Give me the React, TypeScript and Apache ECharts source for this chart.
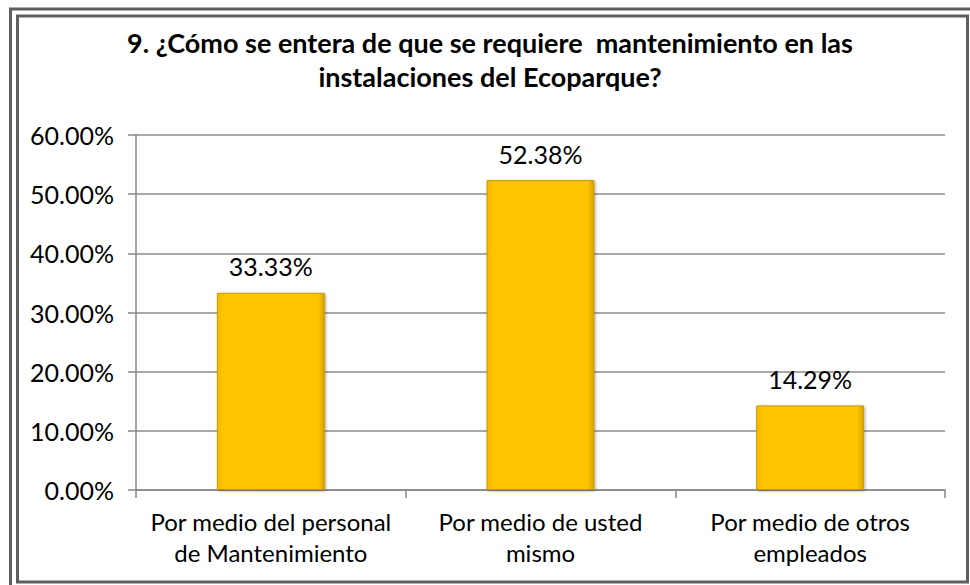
import React, { useEffect, useRef } from "react";
import * as echarts from "echarts";

const categories = [
  "Por medio del personal\nde Mantenimiento",
  "Por medio de usted\nmismo",
  "Por medio de otros\nempleados",
];
const values = [0.3333, 0.5238, 0.1429];
const titleLines = [
  "9. ¿Cómo se entera de que se requiere  mantenimiento en las",
  "instalaciones del Ecoparque?",
];

const FONT = "Lato, 'Noto Sans', sans-serif";

export default function App() {
  const ref = useRef<HTMLDivElement>(null);
  useEffect(() => {
    document.body.style.margin = "0";
    const chart = echarts.init(ref.current!, null, { renderer: "svg" });
    chart.setOption({
      animation: false,
      backgroundColor: "#ffffff",
      grid: { left: 136, right: 25, top: 135, bottom: 95 },
      xAxis: {
        type: "category",
        data: categories,
        axisLine: { lineStyle: { color: "#868686", width: 1.5 } },
        axisTick: { show: true, length: 8, interval: 0, lineStyle: { color: "#868686", width: 1.5 } },
        axisLabel: {
          interval: 0,
          margin: 16,
          fontFamily: FONT,
          fontSize: 24,
          color: "#000",
          lineHeight: 31,
        },
      },
      yAxis: {
        type: "value",
        min: 0,
        max: 0.6,
        interval: 0.1,
        axisLine: { show: true, lineStyle: { color: "#868686", width: 1.5 } },
        axisTick: { show: true, length: 8, lineStyle: { color: "#868686", width: 1.5 } },
        splitLine: { lineStyle: { color: "#8c8c8c", width: 1.5 } },
        axisLabel: {
          margin: 22,
          fontFamily: FONT,
          fontSize: 25,
          color: "#000",
          formatter: (v: number) => (v * 100).toFixed(2) + "%",
        },
      },
      series: [
        {
          type: "bar",
          data: values,
          barWidth: "40%",
          itemStyle: {
            color: new echarts.graphic.LinearGradient(0, 0, 1, 0, [
              { offset: 0, color: "#F5B800" },
              { offset: 0.06, color: "#FFC400" },
              { offset: 0.94, color: "#FFC400" },
              { offset: 1, color: "#D9A200" },
            ]),
            borderColor: "#C99A00",
            borderWidth: 1,
            shadowColor: "rgba(0,0,0,0.35)",
            shadowBlur: 3,
            shadowOffsetX: 1,
            shadowOffsetY: 1,
          },
          label: {
            show: true,
            position: "top",
            distance: 14,
            fontFamily: FONT,
            fontSize: 25,
            color: "#000",
            formatter: (p: any) => (p.value * 100).toFixed(2) + "%",
          },
        },
      ],
      graphic: [
        {
          type: "text",
          x: 490,
          y: 25,
          silent: true,
          style: {
            text: titleLines.join("\n"),
            textAlign: "center",
            textVerticalAlign: "top",
            fontFamily: FONT,
            fontSize: 27,
            fontWeight: "bold",
            fill: "#000",
            lineHeight: 34,
          },
        },
        {
          type: "rect",
          shape: { x: 10.5, y: 9, width: 975, height: 590 },
          style: { fill: "none", stroke: "#5f5f5f", lineWidth: 3 },
          silent: true,
        },
        {
          type: "rect",
          shape: { x: 17.5, y: 16, width: 950, height: 566 },
          style: { fill: "none", stroke: "#5f5f5f", lineWidth: 3 },
          silent: true,
        },
      ],
    });
    return () => chart.dispose();
  }, []);
  return (
    <div
      ref={ref}
      style={{ position: "absolute", left: 0, top: 0, width: 970, height: 585 }}
    />
  );
}
